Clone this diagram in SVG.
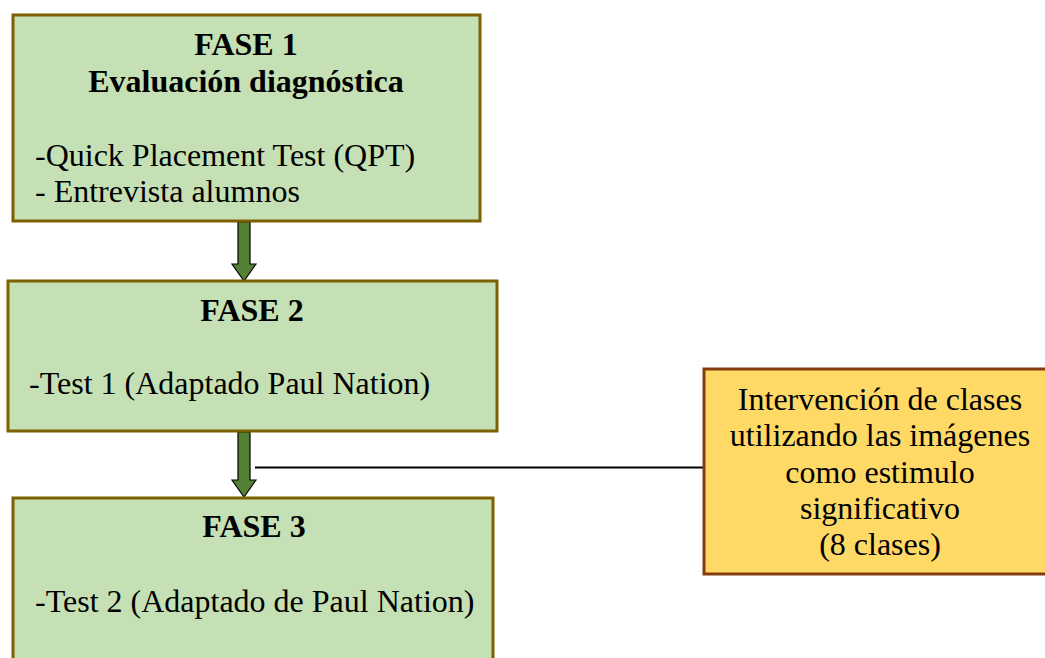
<svg xmlns="http://www.w3.org/2000/svg" width="1045" height="658" viewBox="0 0 1045 658">
  <style>
    .phase { fill: #c5e0b4; stroke: #7f6000; stroke-width: 3; }
    .note { fill: #ffd966; stroke: #843c0c; stroke-width: 3; }
    .arrow { fill: #538135; stroke: #000; stroke-width: 1.2; stroke-linejoin: miter; }
    .t { font-family: "Liberation Serif", "Times New Roman", serif; font-size: 32px; fill: #000; }
    .b { font-weight: bold; }
    .c { text-anchor: middle; }
  </style>
  <rect width="1045" height="658" fill="#fff"/>
  <g id="connectors">
    <path class="arrow" d="M238,222 L250,222 L250,264 L256,264 L244,281 L232,264 L238,264 Z"/>
    <path class="arrow" d="M238,432 L250,432 L250,480 L256,480 L244,497 L232,480 L238,480 Z"/>
    <line x1="255" y1="467.5" x2="704" y2="467.5" stroke="#000" stroke-width="2"/>
  </g>
  <g id="fase1">
    <rect class="phase" x="13" y="15" width="467" height="206"/>
    <text class="t b c" x="246" y="55">FASE 1</text>
    <text class="t b c" x="246" y="92">Evaluación diagnóstica</text>
    <text class="t" x="35" y="166">-Quick Placement Test (QPT)</text>
    <text class="t" x="35" y="202">- Entrevista alumnos</text>
  </g>
  <g id="fase2">
    <rect class="phase" x="8" y="281" width="489" height="150"/>
    <text class="t b c" x="252" y="321">FASE 2</text>
    <text class="t" x="29" y="394">-Test 1 (Adaptado Paul Nation)</text>
  </g>
  <g id="fase3">
    <rect class="phase" x="13" y="498" width="480" height="200"/>
    <text class="t b c" x="254" y="537">FASE 3</text>
    <text class="t" x="35" y="612">-Test 2 (Adaptado de Paul Nation)</text>
  </g>
  <g id="intervencion">
    <rect class="note" x="704" y="369" width="360" height="205"/>
    <text class="t c" x="880" y="410">Intervención de clases</text>
    <text class="t c" x="880" y="446">utilizando las imágenes</text>
    <text class="t c" x="880" y="483">como estimulo</text>
    <text class="t c" x="880" y="519">significativo</text>
    <text class="t c" x="880" y="555">(8 clases)</text>
  </g>
</svg>
